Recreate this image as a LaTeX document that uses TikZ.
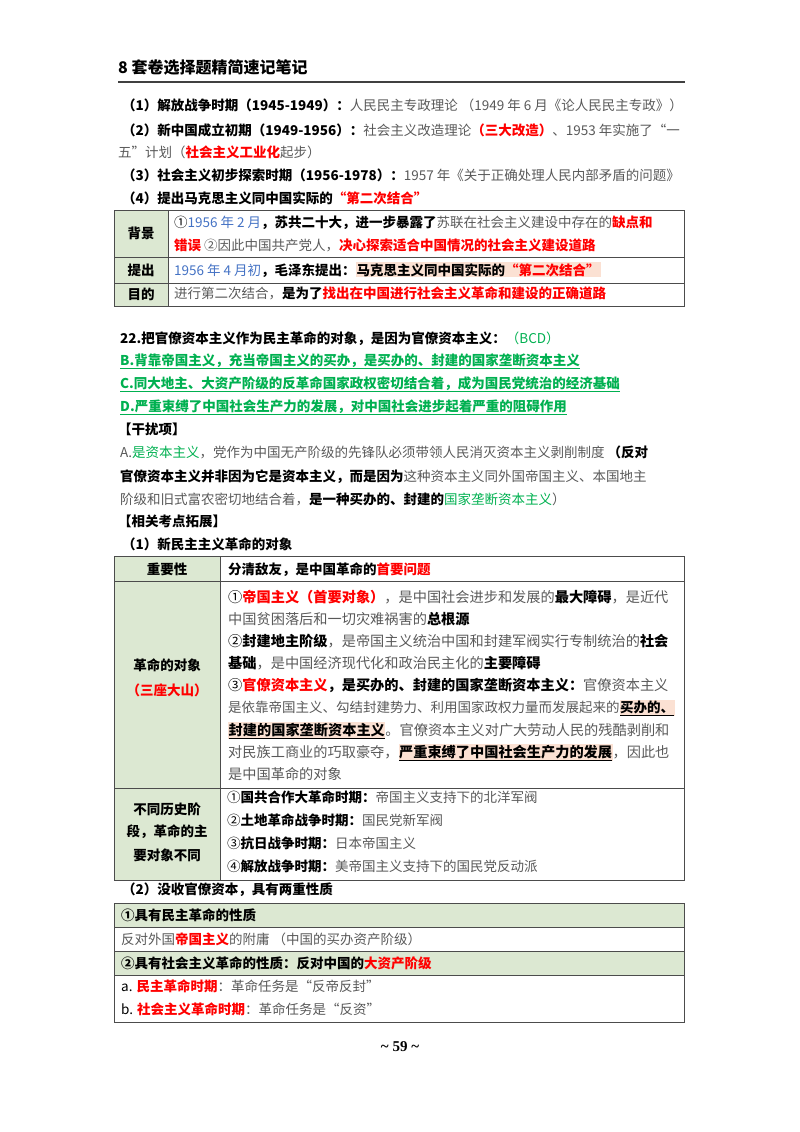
\documentclass[tikz,border=0pt]{standalone}
\usepackage{fontspec}
\setmainfont{Noto Sans CJK SC}
\newfontfamily\serifx{Liberation Serif}
\usepackage{xcolor}
\definecolor{rd}{HTML}{FF0000}
\definecolor{bl}{HTML}{4472C4}
\definecolor{gr}{HTML}{00B050}
\definecolor{gy}{HTML}{595959}
\definecolor{lg}{HTML}{DCE8D2}
\definecolor{hl}{HTML}{FBE1D3}
\newcommand{\Kx}[1]{{\bfseries\color{black}#1}}
\newcommand{\Rx}[1]{{\bfseries\color{rd}#1}}
\newcommand{\Bx}[1]{{\color{bl}#1}}
\newcommand{\Gx}[1]{{\color{gy}#1}}
\newcommand{\GNx}[1]{{\color{gr}#1}}
\newcommand{\GUx}[1]{{\bfseries\color{gr}\underline{#1}}}
\newcommand{\HUx}[1]{{\setlength{\fboxsep}{0.5pt}\colorbox{hl}{\bfseries\underline{#1}}}}
\newcommand{\HLx}[1]{{\setlength{\fboxsep}{1pt}\colorbox{hl}{#1}}}
\newcommand{\fsx}{\fontsize{13.5}{16}\selectfont}
\newcommand{\fsy}{\fontsize{14.2}{16}\selectfont}
\begin{document}
\begin{tikzpicture}[x=1pt,y=-1pt,
  ln/.style={anchor=base west,inner sep=0pt,font=\fsx},
  lnw/.style={anchor=base west,inner sep=0pt,font=\fsy},
  lab/.style={anchor=center,inner sep=0pt,font=\fsx\bfseries},
  cell/.style={draw=black!70,line width=0.8pt},
  gcell/.style={cell,fill=lg}]
\useasboundingbox (0,0) rectangle (800,1132);
% header
\node[anchor=base west,inner sep=0pt,font=\fontsize{16}{18}\selectfont\bfseries] (hd) at (118,74) {8 套卷选择题精简速记笔记};
\draw[line width=1.5pt,black!75] (118,82) -- (685,82);
% section lines
\node[ln] (l1) at (122,110) {\Kx{（1）解放战争时期（1945-1949）：}\Gx{人民民主专政理论 （1949 年 6 月《论人民民主专政》）}};
\node[ln] (l2) at (122,135) {\Kx{（2）新中国成立初期（1949-1956）：}\Gx{社会主义改造理论}\Rx{（三大改造）}\Gx{、1953 年实施了“一}};
\node[ln] (l2b) at (118,157) {\Gx{五”计划（}\Rx{社会主义工业化}\Gx{起步）}};
\node[ln] (l3) at (122,180) {\Kx{（3）社会主义初步探索时期（1956-1978）：}\Gx{1957 年《关于正确处理人民内部矛盾的问题》}};
\node[ln] (l4) at (122,203) {\Kx{（4）提出马克思主义同中国实际的}\Rx{“第二次结合”}};
% table 1
\draw[gcell] (114,210) rectangle (168,306);
\draw[cell] (168,210) rectangle (684,306);
\draw[cell] (114,257) -- (684,257);
\draw[cell] (114,283) -- (684,283);
\node[lab] (a1) at (141,233) {背景};
\node[lab] (a2) at (141,270) {提出};
\node[lab] (a3) at (141,294) {目的};
\node[ln] (b1) at (174,227) {①\Bx{1956 年 2 月}\Kx{，苏共二十大，进一步暴露了}\Gx{苏联在社会主义建设中存在的}\Rx{缺点和}};
\node[ln] (b2) at (174,250) {\Rx{错误} \Gx{②因此中国共产党人，}\Rx{决心探索适合中国情况的社会主义建设道路}};
\node[ln] (b3) at (174,275) {\Bx{1956 年 4 月初}\Kx{，毛泽东提出：}\HLx{\Kx{马克思主义同中国实际的}\Rx{“第二次结合”}}};
\node[ln] (b4) at (174,298) {\Gx{进行第二次结合，}\Kx{是为了}\Rx{找出在中国进行社会主义革命和建设的正确道路}};
% Q22
\node[ln] (q1) at (120,343) {\Kx{22.把官僚资本主义作为民主革命的对象，是因为官僚资本主义：}\GNx{（BCD）}};
\node[ln] (q2) at (120,365) {\GUx{B.背靠帝国主义，充当帝国主义的买办，是买办的、封建的国家垄断资本主义}};
\node[ln] (q3) at (120,388) {\GUx{C.同大地主、大资产阶级的反革命国家政权密切结合着，成为国民党统治的经济基础}};
\node[ln] (q4) at (120,411) {\GUx{D.严重束缚了中国社会生产力的发展，对中国社会进步起着严重的阻碍作用}};
\node[ln] (q5) at (118,434) {\Kx{【干扰项】}};
\node[ln] (q6) at (120,457) {\Gx{A.}\GNx{是资本主义}\Gx{，党作为中国无产阶级的先锋队必须带领人民消灭资本主义剥削制度 }\Kx{（反对}};
\node[ln] (q7) at (120,481) {\Kx{官僚资本主义并非因为它是资本主义，而是因为}\Gx{这种资本主义同外国帝国主义、本国地主}};
\node[ln] (q8) at (120,504) {\Gx{阶级和旧式富农密切地结合着，}\Kx{是一种买办的、封建的}\GNx{国家垄断资本主义}\Gx{）}};
\node[ln] (q9) at (118,526) {\Kx{【相关考点拓展】}};
\node[ln] (q10) at (122,549) {\Kx{（1）新民主主义革命的对象}};
% table 2
\draw[gcell] (114,556) rectangle (220,880);
\draw[cell] (220,556) rectangle (684,880);
\draw[cell] (114,581) -- (684,581);
\draw[cell] (114,788) -- (684,788);
\node[lab] (c1) at (167,569) {重要性};
\node[lab] (c2) at (167,665) {革命的对象};
\node[lab,text=rd] (c3) at (167,690) {（三座大山）};
\node[lab] (c4) at (167,809) {不同历史阶};
\node[lab] (c5) at (167,832) {段，革命的主};
\node[lab] (c6) at (167,855) {要对象不同};
\node[ln] (d0) at (228,574) {\Kx{分清敌友，是中国革命的}\Rx{首要问题}};
\node[lnw] (d1) at (228,602) {①\Rx{帝国主义（首要对象）}\Gx{，是中国社会进步和发展的}\Kx{最大障碍}\Gx{，是近代}};
\node[lnw] (d2) at (228,624) {\Gx{中国贫困落后和一切灾难祸害的}\Kx{总根源}};
\node[lnw] (d3) at (228,646) {②\Kx{封建地主阶级}\Gx{，是帝国主义统治中国和封建军阀实行专制统治的}\Kx{社会}};
\node[lnw] (d4) at (228,668) {\Kx{基础}\Gx{，是中国经济现代化和政治民主化的}\Kx{主要障碍}};
\node[lnw] (d5) at (228,690) {③\Rx{官僚资本主义}\Kx{，是买办的、封建的国家垄断资本主义：}\Gx{官僚资本主义}};
\node[ln] (d6) at (228,712) {\Gx{是依靠帝国主义、勾结封建势力、利用国家政权力量而发展起来的}\HUx{买办的、}};
\node[lnw] (d7) at (228,735) {\HUx{封建的国家垄断资本主义}\Gx{。官僚资本主义对广大劳动人民的残酷剥削和}};
\node[lnw] (d8) at (228,757) {\Gx{对民族工商业的巧取豪夺，}\HUx{严重束缚了中国社会生产力的发展}\Gx{，因此也}};
\node[lnw] (d9) at (228,779) {\Gx{是中国革命的对象}};
\node[ln] (e1) at (227,802) {①\Kx{国共合作大革命时期：}\Gx{帝国主义支持下的北洋军阀}};
\node[ln] (e2) at (227,825) {②\Kx{土地革命战争时期：}\Gx{国民党新军阀}};
\node[ln] (e3) at (227,848) {③\Kx{抗日战争时期：}\Gx{日本帝国主义}};
\node[ln] (e4) at (227,871) {④\Kx{解放战争时期：}\Gx{美帝国主义支持下的国民党反动派}};
% (2)
\node[ln] (s2) at (122,894) {\Kx{（2）没收官僚资本，具有两重性质}};
% table 3
\draw[gcell] (114,903) rectangle (684,927);
\draw[cell] (114,927) rectangle (684,951);
\draw[gcell] (114,951) rectangle (684,975);
\draw[cell] (114,975) rectangle (684,1022);
\node[ln] (f1) at (121,920) {\Kx{①具有民主革命的性质}};
\node[ln] (f2) at (121,944) {\Gx{反对外国}\Rx{帝国主义}\Gx{的附庸 （中国的买办资产阶级）}};
\node[ln] (f3) at (121,968) {\Kx{②具有社会主义革命的性质：反对中国的}\Rx{大资产阶级}};
\node[ln] (f4) at (121,991) {a. \Rx{民主革命时期}\Gx{：革命任务是“反帝反封”}};
\node[ln] (f5) at (121,1014) {b. \Rx{社会主义革命时期}\Gx{：革命任务是“反资”}};
% page number
\node[anchor=center,inner sep=0pt,font=\fontsize{15}{16}\selectfont\serifx\bfseries] (pg) at (400,1047) {\textasciitilde{} 59 \textasciitilde};
\end{tikzpicture}
\end{document}
